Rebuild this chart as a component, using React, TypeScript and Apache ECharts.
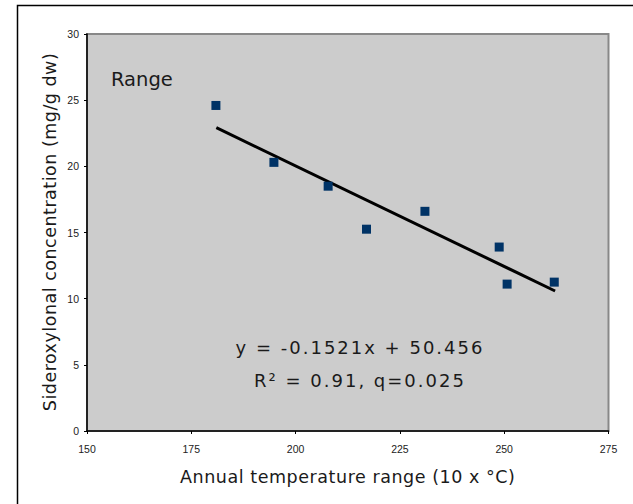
import React, { useEffect, useRef } from "react";
import * as echarts from "echarts";

// ---- data ----
const tempRange: number[] = [180.9, 194.8, 207.8, 217.0, 231.0, 248.8, 250.7, 262.0];
const sideroxylonal: number[] = [24.6, 20.3, 18.5, 15.25, 16.6, 13.9, 11.1, 11.25];
// trendline end points (on y = -0.1521x + 50.456)
const trendX: number[] = [181.0, 262.2];
const trendY: number[] = [22.92, 10.58];

const xTicks = { min: 150, max: 275, interval: 25 };
const yTicks = { min: 0, max: 30, interval: 5 };

const X_TITLE = "Annual temperature range (10 x °C)";
const Y_TITLE = "Sideroxylonal concentration (mg/g dw)";
const PANEL_LABEL = "Range";
const EQ1 = "y = -0.1521x + 50.456";
const EQ2 = "R² = 0.91, q=0.025";

const TITLE_FONT = "DejaVu Sans";
const TICK_FONT = "Liberation Sans";

export default function App() {
  const ref = useRef<HTMLDivElement>(null);

  useEffect(() => {
    const el = ref.current;
    if (!el) return;
    const chart = echarts.init(el, undefined, { renderer: "svg" });

    const points = tempRange.map((x, i) => [x, sideroxylonal[i]]);
    const trend = trendX.map((x, i) => [x, trendY[i]]);

    const option: any = {
      animation: false,
      backgroundColor: "#ffffff",
      grid: {
        show: true,
        left: 87,
        top: 34,
        width: 521.5,
        height: 397,
        backgroundColor: "#cccccc",
        borderColor: "#888888",
        borderWidth: 2,
      },
      xAxis: {
        type: "value",
        min: xTicks.min,
        max: xTicks.max,
        interval: xTicks.interval,
        axisLine: { show: true, onZero: false, lineStyle: { color: "#000", width: 1.5 } },
        axisTick: { show: true, inside: false, length: 3, lineStyle: { color: "#000", width: 1 } },
        splitLine: { show: false },
        axisLabel: {
          margin: 12,
          fontFamily: TICK_FONT,
          fontSize: 10.5,
          color: "#222",
        },
      },
      yAxis: {
        type: "value",
        min: yTicks.min,
        max: yTicks.max,
        interval: yTicks.interval,
        axisLine: { show: true, onZero: false, lineStyle: { color: "#000", width: 1.5 } },
        axisTick: { show: true, inside: false, length: 3, lineStyle: { color: "#000", width: 1 } },
        splitLine: { show: false },
        axisLabel: {
          margin: 8,
          fontFamily: TICK_FONT,
          fontSize: 10.5,
          color: "#222",
        },
      },
      series: [
        {
          type: "line",
          data: trend,
          symbol: "none",
          lineStyle: { color: "#000", width: 3 },
          silent: true,
          z: 2,
        },
        {
          type: "scatter",
          data: points,
          symbol: "rect",
          symbolSize: 9,
          itemStyle: { color: "#003366", opacity: 1 },
          silent: true,
          z: 3,
        },
      ],
      graphic: [
        {
          type: "rect",
          silent: true,
          z: 100,
          shape: { x: 17.5, y: 5.5, width: 700, height: 600 },
          style: { fill: "none", stroke: "#000", lineWidth: 1.5 },
        },
        {
          type: "text",
          silent: true,
          x: 347.75,
          y: 476.5,
          style: {
            text: X_TITLE,
            fontFamily: TITLE_FONT,
            fontSize: 17.5,
            fill: "#1a1a1a",
            textAlign: "center",
            textVerticalAlign: "middle",
          },
        },
        {
          type: "text",
          silent: true,
          x: 49.5,
          y: 232,
          rotation: Math.PI / 2,
          style: {
            text: Y_TITLE,
            fontFamily: TITLE_FONT,
            fontSize: 17.5,
            fill: "#1a1a1a",
            textAlign: "center",
            textVerticalAlign: "middle",
          },
        },
        {
          type: "text",
          silent: true,
          x: 111,
          y: 79.5,
          style: {
            text: PANEL_LABEL,
            fontFamily: TITLE_FONT,
            fontSize: 19.5,
            fill: "#1a1a1a",
            textAlign: "left",
            textVerticalAlign: "middle",
          },
        },
        {
          type: "text",
          silent: true,
          x: 360,
          y: 347,
          style: {
            text: EQ1,
            fontFamily: TITLE_FONT,
            fontSize: 18,
            fill: "#1a1a1a",
            textAlign: "center",
            textVerticalAlign: "middle",
          },
        },
        {
          type: "text",
          silent: true,
          x: 360,
          y: 380,
          style: {
            text: EQ2,
            fontFamily: TITLE_FONT,
            fontSize: 18,
            fill: "#1a1a1a",
            textAlign: "center",
            textVerticalAlign: "middle",
          },
        },
      ],
    };

    chart.setOption(option);

    // widen the letter spacing of the long labels, like the reference
    const spacing: Record<string, number> = {
      [X_TITLE]: 0.55,
      [Y_TITLE]: 0.5,
      [EQ1]: 2,
      [EQ2]: 2,
    };
    el.querySelectorAll("text").forEach((t) => {
      const s = spacing[t.textContent || ""];
      if (s) (t as SVGTextElement).style.letterSpacing = s + "px";
    });

    return () => {
      chart.dispose();
    };
  }, []);

  return (
    <div
      ref={ref}
      style={{ position: "absolute", left: 0, top: 0, width: 633, height: 504, background: "#fff" }}
    />
  );
}
